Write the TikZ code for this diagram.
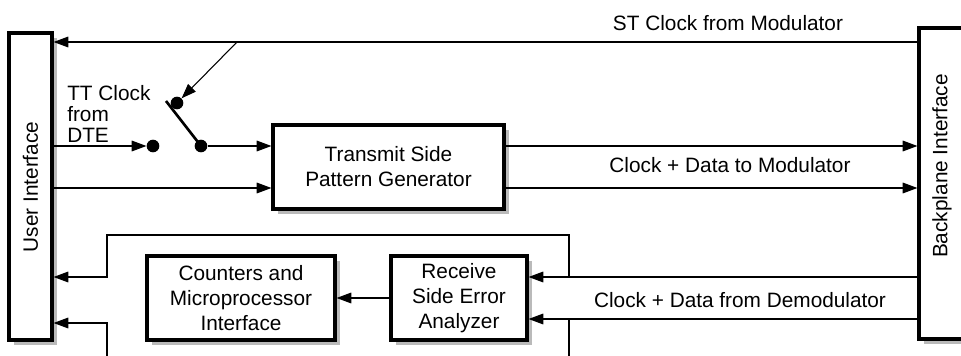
\documentclass[tikz,border=0pt]{standalone}
\usepackage{fontspec}
\setmainfont{Liberation Sans}
\usetikzlibrary{arrows.meta,shadows}
\begin{document}
\begin{tikzpicture}[x=0.75pt,y=-0.75pt,
  font=\fontsize{15.6pt}{18.75pt}\selectfont,
  box/.style={draw, line width=2.4pt, fill=white, inner sep=0pt, align=center,
    drop shadow={shadow xshift=4pt, shadow yshift=-4pt, fill=black!27, opacity=1}},
  sig/.style={line width=0.8pt},
  arr/.style={sig, -{Triangle[length=11pt,width=8pt]}},
  contact/.style={circle, fill=black, inner sep=0pt, minimum size=9.5pt},
  lbl/.style={inner sep=0pt}]
\useasboundingbox (0,0) rectangle (961,356);
\fill[white] (0,0) rectangle (961,356);
\clip (0,0) rectangle (961,356);

% interface panels and function blocks
\node[box, minimum width=32.25pt, minimum height=230.25pt] (ui) at (30.5,186.5) {};
\node[lbl, rotate=90] (uit) at (30.5,187) {User Interface};
\node[box, minimum width=34.5pt, minimum height=233.25pt] (bp) at (942,183.5) {};
\node[lbl, rotate=90] (bpt) at (942,166) {Backplane Interface};
\node[box, minimum width=173.25pt, minimum height=63pt] (tx) at (388.5,167) {Transmit Side\\Pattern Generator};
\node[box, minimum width=141pt, minimum height=63pt] (cnt) at (241,298) {Counters and\\Microprocessor\\Interface};
\node[box, minimum width=102pt, minimum height=63pt] (rx) at (459,298) {Receive\\Side Error\\Analyzer};

% clock selector switch contacts
\node[contact] (dl) at (153,146) {};
\node[contact] (db) at (201,146) {};
\node[contact] (dt) at (177,103) {};

% signal levels and routing points
\coordinate (yst) at (0,42);
\coordinate (ytx) at (0,188);
\coordinate (yr1) at (0,277);
\coordinate (yr2) at (0,319);
\coordinate (yu2) at (0,323);
\coordinate (tap) at (237,42);
\coordinate (bladetip) at (166,101);
\coordinate (loopR) at (569,235);
\coordinate (loopL) at (107,235);
\coordinate (offR) at (569,362);
\coordinate (offL) at (107,362);

% transmit path
\draw[arr] (bp.west |- yst) -- (ui.east |- yst);
\draw[arr] (tap) -- (dt);
\draw[line width=2pt] (bladetip) -- (db.center);
\draw[arr] (ui.east |- dl) -- (dl);
\draw[arr] (db) -- (tx.west |- db);
\draw[arr] (ui.east |- ytx) -- (tx.west |- ytx);
\draw[arr] (tx.east |- db) -- (bp.west |- db);
\draw[arr] (tx.east |- ytx) -- (bp.west |- ytx);

% receive path
\draw[arr] (bp.west |- yr1) -- (rx.east |- yr1);
\draw[arr] (bp.west |- yr2) -- (rx.east |- yr2);
\draw[arr] (rx.west) -- (cnt.east);
\draw[arr] (loopR |- yr1) -- (loopR) -- (loopL) |- (ui.east |- yr1);
\draw[sig] (loopR |- yr2) -- (offR);
\draw[arr] (offL) |- (ui.east |- yu2);

% labels
\node[lbl, align=left, anchor=west, font=\fontsize{15.6pt}{15.75pt}\selectfont] (tt) at (67,114) {TT Clock\\from\\DTE};
\node[lbl] (lst) at (728,23) {ST Clock from Modulator};
\node[lbl] (ltx) at (730,165) {Clock + Data to Modulator};
\node[lbl] (lrx) at (740,300) {Clock + Data from Demodulator};
\end{tikzpicture}
\end{document}
